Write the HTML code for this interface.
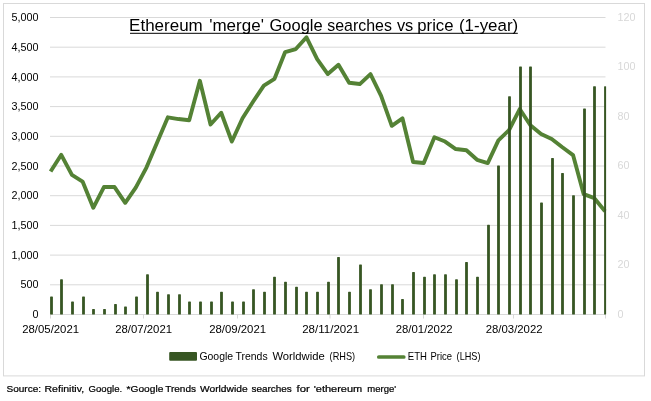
<!DOCTYPE html>
<html><head><meta charset="utf-8"><title>Ethereum merge chart</title>
<style>html,body{margin:0;padding:0;background:#fff}svg{display:block}text{font-family:"Liberation Sans",sans-serif}</style></head><body>
<svg width="651" height="401" viewBox="0 0 651 401">
<rect x="0" y="0" width="651" height="401" fill="#fff"/>
<rect x="3.5" y="3.5" width="641" height="372.4" fill="none" stroke="#d9d9d9" stroke-width="1"/>
<line x1="50" x2="605.5" y1="314.50" y2="314.50" stroke="#d9d9d9" stroke-width="1"/>
<line x1="50" x2="605.5" y1="284.80" y2="284.80" stroke="#d9d9d9" stroke-width="1"/>
<line x1="50" x2="605.5" y1="255.10" y2="255.10" stroke="#d9d9d9" stroke-width="1"/>
<line x1="50" x2="605.5" y1="225.40" y2="225.40" stroke="#d9d9d9" stroke-width="1"/>
<line x1="50" x2="605.5" y1="195.70" y2="195.70" stroke="#d9d9d9" stroke-width="1"/>
<line x1="50" x2="605.5" y1="166.00" y2="166.00" stroke="#d9d9d9" stroke-width="1"/>
<line x1="50" x2="605.5" y1="136.30" y2="136.30" stroke="#d9d9d9" stroke-width="1"/>
<line x1="50" x2="605.5" y1="106.60" y2="106.60" stroke="#d9d9d9" stroke-width="1"/>
<line x1="50" x2="605.5" y1="76.90" y2="76.90" stroke="#d9d9d9" stroke-width="1"/>
<line x1="50" x2="605.5" y1="47.20" y2="47.20" stroke="#d9d9d9" stroke-width="1"/>
<line x1="50" x2="605.5" y1="17.50" y2="17.50" stroke="#d9d9d9" stroke-width="1"/>
<line x1="50.5" x2="50.5" y1="314.5" y2="318.5" stroke="#d9d9d9" stroke-width="1"/>
<line x1="143.5" x2="143.5" y1="314.5" y2="318.5" stroke="#d9d9d9" stroke-width="1"/>
<line x1="237.5" x2="237.5" y1="314.5" y2="318.5" stroke="#d9d9d9" stroke-width="1"/>
<line x1="330" x2="330" y1="314.5" y2="318.5" stroke="#d9d9d9" stroke-width="1"/>
<line x1="423.5" x2="423.5" y1="314.5" y2="318.5" stroke="#d9d9d9" stroke-width="1"/>
<line x1="513.5" x2="513.5" y1="314.5" y2="318.5" stroke="#d9d9d9" stroke-width="1"/>
<line x1="605.5" x2="605.5" y1="314.5" y2="318.5" stroke="#d9d9d9" stroke-width="1"/>
<polyline points="50.60,171.55 61.26,154.80 71.92,174.80 82.59,181.55 93.25,207.80 103.91,187.05 114.57,187.05 125.23,202.80 135.90,187.30 146.56,167.30 157.22,142.30 167.88,117.30 178.54,119.05 189.21,120.30 199.87,80.80 210.53,124.55 221.19,112.80 231.85,141.55 242.52,118.30 253.18,101.55 263.84,85.55 274.50,78.80 285.16,52.05 295.83,49.05 306.49,37.30 317.15,59.05 327.81,74.05 338.47,64.80 349.14,82.80 359.80,84.05 370.46,74.05 381.12,95.80 391.78,125.80 402.45,118.30 413.11,162.05 423.77,163.05 434.43,137.30 445.09,141.55 455.76,149.05 466.42,150.30 477.08,159.80 487.74,163.05 498.40,140.30 509.07,130.05 519.73,109.05 530.39,125.30 541.05,134.05 551.71,139.05 562.38,147.30 573.04,155.10 583.70,194.20 594.36,198.20 605.02,211.20" fill="none" stroke="#548235" stroke-width="3.9" stroke-linejoin="round" stroke-linecap="butt"/>
<rect x="50.10" y="296.62" width="2.8" height="17.88" rx="0.6" fill="#375623"/>
<rect x="60.10" y="279.30" width="2.8" height="35.20" rx="0.6" fill="#375623"/>
<rect x="71.10" y="301.57" width="2.8" height="12.93" rx="0.6" fill="#375623"/>
<rect x="82.10" y="296.62" width="2.8" height="17.88" rx="0.6" fill="#375623"/>
<rect x="92.10" y="309.00" width="2.8" height="5.50" rx="0.6" fill="#375623"/>
<rect x="103.10" y="309.00" width="2.8" height="5.50" rx="0.6" fill="#375623"/>
<rect x="114.10" y="304.05" width="2.8" height="10.45" rx="0.6" fill="#375623"/>
<rect x="124.10" y="306.52" width="2.8" height="7.97" rx="0.6" fill="#375623"/>
<rect x="135.10" y="296.62" width="2.8" height="17.88" rx="0.6" fill="#375623"/>
<rect x="146.10" y="274.35" width="2.8" height="40.15" rx="0.6" fill="#375623"/>
<rect x="156.10" y="291.68" width="2.8" height="22.82" rx="0.6" fill="#375623"/>
<rect x="167.10" y="294.15" width="2.8" height="20.35" rx="0.6" fill="#375623"/>
<rect x="178.10" y="294.15" width="2.8" height="20.35" rx="0.6" fill="#375623"/>
<rect x="188.10" y="301.57" width="2.8" height="12.93" rx="0.6" fill="#375623"/>
<rect x="199.10" y="301.57" width="2.8" height="12.93" rx="0.6" fill="#375623"/>
<rect x="210.10" y="301.57" width="2.8" height="12.93" rx="0.6" fill="#375623"/>
<rect x="220.10" y="291.68" width="2.8" height="22.82" rx="0.6" fill="#375623"/>
<rect x="231.10" y="301.57" width="2.8" height="12.93" rx="0.6" fill="#375623"/>
<rect x="242.10" y="301.57" width="2.8" height="12.93" rx="0.6" fill="#375623"/>
<rect x="252.10" y="289.20" width="2.8" height="25.30" rx="0.6" fill="#375623"/>
<rect x="263.10" y="291.68" width="2.8" height="22.82" rx="0.6" fill="#375623"/>
<rect x="273.10" y="276.82" width="2.8" height="37.67" rx="0.6" fill="#375623"/>
<rect x="284.10" y="281.77" width="2.8" height="32.72" rx="0.6" fill="#375623"/>
<rect x="295.10" y="286.73" width="2.8" height="27.78" rx="0.6" fill="#375623"/>
<rect x="305.10" y="291.68" width="2.8" height="22.82" rx="0.6" fill="#375623"/>
<rect x="316.10" y="291.68" width="2.8" height="22.82" rx="0.6" fill="#375623"/>
<rect x="327.10" y="281.77" width="2.8" height="32.72" rx="0.6" fill="#375623"/>
<rect x="337.10" y="257.02" width="2.8" height="57.47" rx="0.6" fill="#375623"/>
<rect x="348.10" y="291.68" width="2.8" height="22.82" rx="0.6" fill="#375623"/>
<rect x="359.10" y="264.45" width="2.8" height="50.05" rx="0.6" fill="#375623"/>
<rect x="369.10" y="289.20" width="2.8" height="25.30" rx="0.6" fill="#375623"/>
<rect x="380.10" y="284.25" width="2.8" height="30.25" rx="0.6" fill="#375623"/>
<rect x="391.10" y="284.25" width="2.8" height="30.25" rx="0.6" fill="#375623"/>
<rect x="401.10" y="299.10" width="2.8" height="15.40" rx="0.6" fill="#375623"/>
<rect x="412.10" y="271.88" width="2.8" height="42.62" rx="0.6" fill="#375623"/>
<rect x="423.10" y="276.82" width="2.8" height="37.67" rx="0.6" fill="#375623"/>
<rect x="433.10" y="274.35" width="2.8" height="40.15" rx="0.6" fill="#375623"/>
<rect x="444.10" y="274.35" width="2.8" height="40.15" rx="0.6" fill="#375623"/>
<rect x="455.10" y="279.30" width="2.8" height="35.20" rx="0.6" fill="#375623"/>
<rect x="465.10" y="261.98" width="2.8" height="52.52" rx="0.6" fill="#375623"/>
<rect x="476.10" y="276.82" width="2.8" height="37.67" rx="0.6" fill="#375623"/>
<rect x="487.10" y="224.85" width="2.8" height="89.65" rx="0.6" fill="#375623"/>
<rect x="497.10" y="165.45" width="2.8" height="149.05" rx="0.6" fill="#375623"/>
<rect x="508.10" y="96.15" width="2.8" height="218.35" rx="0.6" fill="#375623"/>
<rect x="519.10" y="66.45" width="2.8" height="248.05" rx="0.6" fill="#375623"/>
<rect x="529.10" y="66.45" width="2.8" height="248.05" rx="0.6" fill="#375623"/>
<rect x="540.10" y="202.57" width="2.8" height="111.92" rx="0.6" fill="#375623"/>
<rect x="551.10" y="158.02" width="2.8" height="156.48" rx="0.6" fill="#375623"/>
<rect x="561.10" y="172.88" width="2.8" height="141.62" rx="0.6" fill="#375623"/>
<rect x="572.10" y="195.15" width="2.8" height="119.35" rx="0.6" fill="#375623"/>
<rect x="583.10" y="108.52" width="2.8" height="205.98" rx="0.6" fill="#375623"/>
<rect x="593.10" y="86.25" width="2.8" height="228.25" rx="0.6" fill="#375623"/>
<rect x="604.10" y="86.25" width="2.0" height="228.25" rx="0.6" fill="#375623"/>
<rect x="130" y="32.8" width="387.8" height="1" fill="#000"/>
<text x="38.6" y="318.10" font-size="10.8" fill="#000" text-anchor="end">0</text>
<text x="38.6" y="288.40" font-size="10.8" fill="#000" text-anchor="end">500</text>
<text x="38.6" y="258.70" font-size="10.8" fill="#000" text-anchor="end">1,000</text>
<text x="38.6" y="229.00" font-size="10.8" fill="#000" text-anchor="end">1,500</text>
<text x="38.6" y="199.30" font-size="10.8" fill="#000" text-anchor="end">2,000</text>
<text x="38.6" y="169.60" font-size="10.8" fill="#000" text-anchor="end">2,500</text>
<text x="38.6" y="139.90" font-size="10.8" fill="#000" text-anchor="end">3,000</text>
<text x="38.6" y="110.20" font-size="10.8" fill="#000" text-anchor="end">3,500</text>
<text x="38.6" y="80.50" font-size="10.8" fill="#000" text-anchor="end">4,000</text>
<text x="38.6" y="50.80" font-size="10.8" fill="#000" text-anchor="end">4,500</text>
<text x="38.6" y="21.10" font-size="10.8" fill="#000" text-anchor="end">5,000</text>
<text x="617.5" y="317.90" font-size="10.8" fill="#d8d8d8">0</text>
<text x="617.5" y="268.40" font-size="10.8" fill="#d8d8d8">20</text>
<text x="617.5" y="218.90" font-size="10.8" fill="#d8d8d8">40</text>
<text x="617.5" y="169.40" font-size="10.8" fill="#d8d8d8">60</text>
<text x="617.5" y="119.90" font-size="10.8" fill="#d8d8d8">80</text>
<text x="617.5" y="70.40" font-size="10.8" fill="#d8d8d8">100</text>
<text x="617.5" y="20.90" font-size="10.8" fill="#d8d8d8">120</text>
<rect x="169.2" y="351.9" width="27.8" height="8.9" rx="1" fill="#375623"/>
<line x1="378.8" x2="403.8" y1="357" y2="357" stroke="#548235" stroke-width="3.7" stroke-linecap="round"/>
<text x="129.09" y="30.5" font-size="16.8" fill="#000" textLength="73.70" lengthAdjust="spacingAndGlyphs">Ethereum</text>
<text x="209.20" y="30.5" font-size="16.8" fill="#000" textLength="54.71" lengthAdjust="spacingAndGlyphs">&#39;merge&#39;</text>
<text x="269.50" y="30.5" font-size="16.8" fill="#000" textLength="53.13" lengthAdjust="spacingAndGlyphs">Google</text>
<text x="327.30" y="30.5" font-size="16.8" fill="#000" textLength="64.57" lengthAdjust="spacingAndGlyphs">searches</text>
<text x="396.90" y="30.5" font-size="16.8" fill="#000" textLength="16.38" lengthAdjust="spacingAndGlyphs">vs</text>
<text x="417.30" y="30.5" font-size="16.8" fill="#000" textLength="36.23" lengthAdjust="spacingAndGlyphs">price</text>
<text x="458.99" y="30.5" font-size="16.8" fill="#000" textLength="59.20" lengthAdjust="spacingAndGlyphs">(1-year)</text>
<text x="199.40" y="359.7" font-size="10.8" fill="#000" textLength="33.70" lengthAdjust="spacingAndGlyphs">Google</text>
<text x="235.50" y="359.7" font-size="10.8" fill="#000" textLength="32.12" lengthAdjust="spacingAndGlyphs">Trends</text>
<text x="272.40" y="359.7" font-size="10.8" fill="#000" textLength="52.30" lengthAdjust="spacingAndGlyphs">Worldwide</text>
<text x="329.60" y="359.7" font-size="10.8" fill="#000" textLength="25.51" lengthAdjust="spacingAndGlyphs">(RHS)</text>
<text x="407.80" y="359.7" font-size="10.8" fill="#000" textLength="19.11" lengthAdjust="spacingAndGlyphs">ETH</text>
<text x="430.50" y="359.7" font-size="10.8" fill="#000" textLength="21.50" lengthAdjust="spacingAndGlyphs">Price</text>
<text x="456.60" y="359.7" font-size="10.8" fill="#000" textLength="23.90" lengthAdjust="spacingAndGlyphs">(LHS)</text>
<text x="6.50" y="391.7" font-size="9.5" fill="#000" stroke="#000" stroke-width="0.22" textLength="34.58" lengthAdjust="spacingAndGlyphs">Source:</text>
<text x="44.50" y="391.7" font-size="9.5" fill="#000" stroke="#000" stroke-width="0.22" textLength="39.61" lengthAdjust="spacingAndGlyphs">Refinitiv,</text>
<text x="88.60" y="391.7" font-size="9.5" fill="#000" stroke="#000" stroke-width="0.22" textLength="33.54" lengthAdjust="spacingAndGlyphs">Google.</text>
<text x="126.60" y="391.7" font-size="9.5" fill="#000" stroke="#000" stroke-width="0.22" textLength="36.70" lengthAdjust="spacingAndGlyphs">*Google</text>
<text x="165.20" y="391.7" font-size="9.5" fill="#000" stroke="#000" stroke-width="0.22" textLength="30.84" lengthAdjust="spacingAndGlyphs">Trends</text>
<text x="200.00" y="391.7" font-size="9.5" fill="#000" stroke="#000" stroke-width="0.22" textLength="47.61" lengthAdjust="spacingAndGlyphs">Worldwide</text>
<text x="251.50" y="391.7" font-size="9.5" fill="#000" stroke="#000" stroke-width="0.22" textLength="40.34" lengthAdjust="spacingAndGlyphs">searches</text>
<text x="296.50" y="391.7" font-size="9.5" fill="#000" stroke="#000" stroke-width="0.22" textLength="13.19" lengthAdjust="spacingAndGlyphs">for</text>
<text x="313.70" y="391.7" font-size="9.5" fill="#000" stroke="#000" stroke-width="0.22" textLength="48.60" lengthAdjust="spacingAndGlyphs">&#39;ethereum</text>
<text x="367.30" y="391.7" font-size="9.5" fill="#000" stroke="#000" stroke-width="0.22" textLength="28.81" lengthAdjust="spacingAndGlyphs">merge&#39;</text>
<text x="22.20" y="332.9" font-size="10.8" fill="#000" textLength="56.90" lengthAdjust="spacingAndGlyphs">28/05/2021</text>
<text x="115.20" y="332.9" font-size="10.8" fill="#000" textLength="56.90" lengthAdjust="spacingAndGlyphs">28/07/2021</text>
<text x="209.20" y="332.9" font-size="10.8" fill="#000" textLength="56.90" lengthAdjust="spacingAndGlyphs">28/09/2021</text>
<text x="302.20" y="332.9" font-size="10.8" fill="#000" textLength="56.91" lengthAdjust="spacingAndGlyphs">28/11/2021</text>
<text x="395.70" y="332.9" font-size="10.8" fill="#000" textLength="56.90" lengthAdjust="spacingAndGlyphs">28/01/2022</text>
<text x="485.70" y="332.9" font-size="10.8" fill="#000" textLength="56.90" lengthAdjust="spacingAndGlyphs">28/03/2022</text>
</svg></body></html>
